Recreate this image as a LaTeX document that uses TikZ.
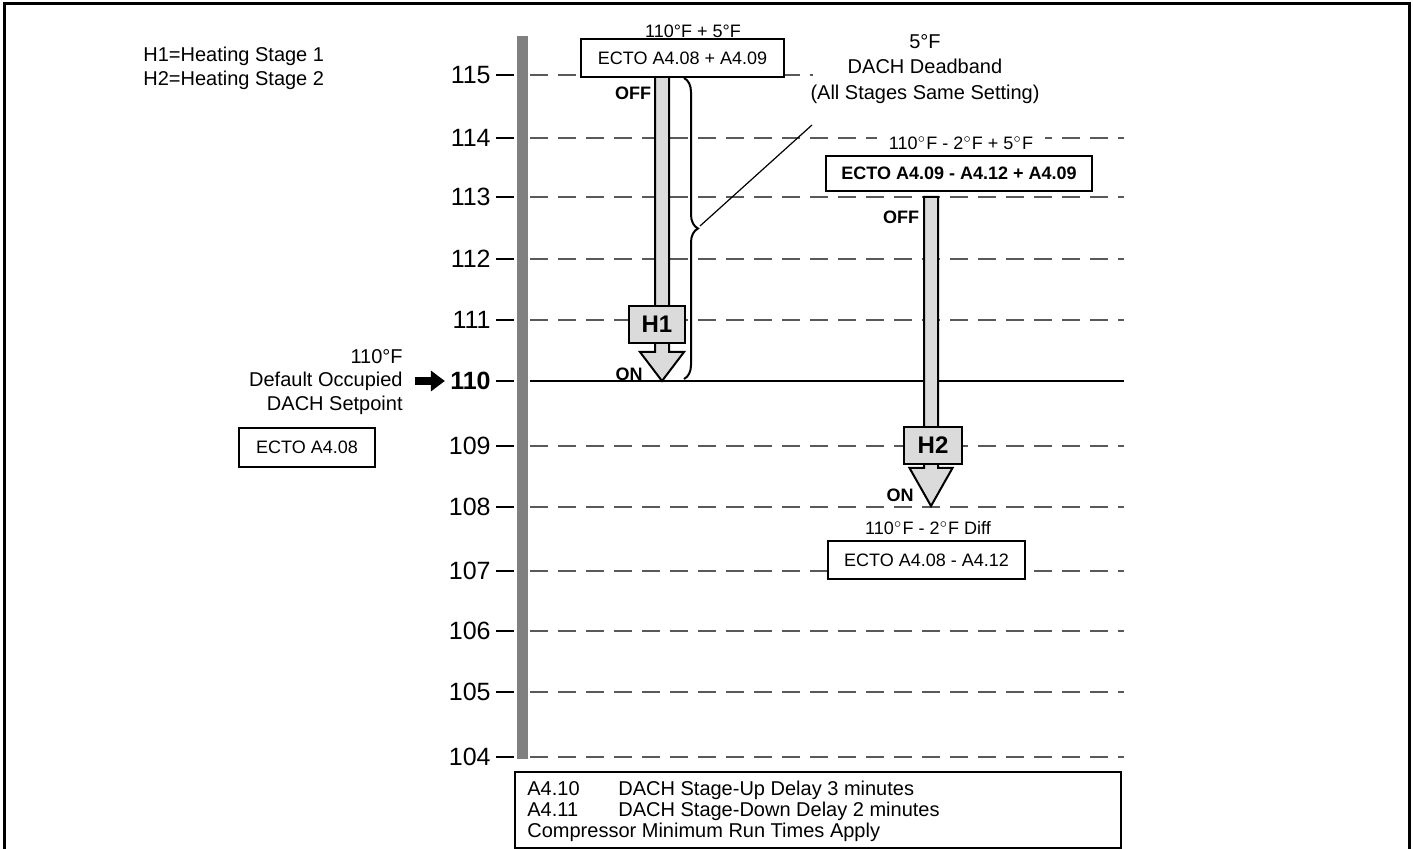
\documentclass[tikz,border=0pt]{standalone}
\usepackage{fontspec}
\setmainfont{Liberation Sans}
\usetikzlibrary{arrows.meta,decorations.pathreplacing}

\tikzset{
  levelline/.style={dash pattern=on 9pt off 5pt, line width=0.75pt, black!65},
  scalelbl/.style={anchor=east, inner sep=0pt, font=\fontsize{12.5}{14}\selectfont},
  ecto/.style={draw, line width=1pt, fill=white, inner sep=0pt, font=\fontsize{9}{11}\selectfont, minimum height=19pt},
  calc lbl/.style={anchor=base, inner sep=0pt, font=\fontsize{9}{11}\selectfont},
  stagebox/.style={draw, line width=1pt, fill=black!14, inner sep=0pt, font=\bfseries\fontsize{12}{14}\selectfont, minimum width=28pt, minimum height=18.5pt},
  stagearrow/.style={draw, line width=1pt, fill=black!14, line join=miter},
  onoff/.style={inner sep=0pt, font=\bfseries\fontsize{9}{11}\selectfont},
  note/.style={inner sep=0pt, font=\fontsize{10}{12}\selectfont}
}

\begin{document}
\begin{tikzpicture}[x=0.5pt, y=-0.5pt]
  \useasboundingbox (0,0) rectangle (1413,849);
  \clip (0,0) rectangle (1413,849);
  \draw[line width=1.5pt] (4,4) rectangle (1409,880);

  % temperature scale
  \fill[black!50] (517,36) rectangle (528,759);
  \foreach \v/\y in {115/75,114/138,113/197,112/259,111/320,109/446,108/507,107/571,106/631,105/692,104/757} {
    \draw[line width=1.2pt] (496,\y) -- (514,\y);
    \node[scalelbl] (t\v) at (491,\y) {\v};
  }
  \draw[line width=1.2pt] (496,381) -- (514,381);
  \node[scalelbl, font=\bfseries\fontsize{12.5}{14}\selectfont] (t110) at (491,381) {110};
  \draw[levelline] (530,75) -- (813,75);
  \foreach \y in {138,197,259,320,446,507,571,631,692,757}
    \draw[levelline] (530,\y) -- (1124,\y);
  \draw[line width=1.2pt] (530,381) -- (1124,381);

  \node[note, align=left, anchor=west] (legend) at (143,68) {H1=Heating Stage 1\\H2=Heating Stage 2};

  % setpoint
  \node[note, align=right, anchor=east, font=\fontsize{10}{11.75}\selectfont] (setpt) at (403,382) {110°F\\Default Occupied\\DACH Setpoint};
  \draw[line width=4pt, -{Triangle[length=7pt,width=10pt]}, shorten <=6pt, shorten >=2.5pt] (setpt.east |- t110) -- (t110.west);
  \node[ecto, minimum width=68pt, minimum height=19.5pt] (ectoset) at (307,447.5) {ECTO A4.08};

  % stage 1
  \node[calc lbl] (calc1) at (693,38) {110°F + 5°F};
  \draw[stagearrow] (655,77) -- (655,352) -- (640,352) -- (662,381) -- (684,352) -- (669,352) -- (669,77) -- cycle;
  \node[ecto, minimum width=101.5pt] (ecto1) at (682.5,58) {ECTO A4.08 + A4.09};
  \node[stagebox] (h1) at (657,324.5) {H1};
  \node[onoff] (off1) at (633,93) {OFF};
  \node[onoff] (on1) at (629,374) {ON};

  % deadband
  \draw[line width=1pt, decorate, decoration={brace, amplitude=7pt}] (684,78) -- (684,379);
  \coordinate (bracetip) at (700,226);
  \coordinate (deadfoot) at (812,125);
  \draw[line width=0.6pt] (bracetip) -- (deadfoot);
  \node[note, align=center, font=\fontsize{10}{12.75}\selectfont] (deadband) at (925,69) {5°F\\DACH Deadband\\(All Stages Same Setting)};

  % stage 2
  \node[calc lbl, fill=white, inner xsep=6pt, inner ysep=2pt] (calc2) at (961,150) {110$^\circ$F - 2$^\circ$F + 5$^\circ$F};
  \node[ecto, minimum width=133pt, minimum height=17.5pt, font=\bfseries\fontsize{9}{11}\selectfont] (ecto2) at (959,173.5) {ECTO A4.09 - A4.12 + A4.09};
  \draw[stagearrow] (924,197) -- (924,468) -- (909.5,468) -- (931,506) -- (952.5,468) -- (938,468) -- (938,197) -- cycle;
  \node[stagebox, minimum width=29pt] (h2) at (933,445.5) {H2};
  \node[onoff] (off2) at (901,217) {OFF};
  \node[onoff] (on2) at (900,495) {ON};
  \node[calc lbl] (calc3) at (928,535) {110$^\circ$F - 2$^\circ$F Diff};
  \node[ecto, minimum width=98.5pt] (ecto3) at (926.5,560) {ECTO A4.08 - A4.12};

  % delays
  \node[draw, line width=1pt, fill=white, minimum width=303pt, minimum height=38pt, inner sep=0pt] (delays) at (818,810) {};
  \node[note, anchor=base west] (up) at (527,795) {A4.10};
  \node[note, anchor=base west] (uptxt) at (618,795) {DACH Stage-Up Delay 3 minutes};
  \node[note, anchor=base west] (down) at (527,816) {A4.11};
  \node[note, anchor=base west] (downtxt) at (618,816) {DACH Stage-Down Delay 2 minutes};
  \node[note, anchor=base west] (comp) at (527,837) {Compressor Minimum Run Times Apply};
\end{tikzpicture}
\end{document}
